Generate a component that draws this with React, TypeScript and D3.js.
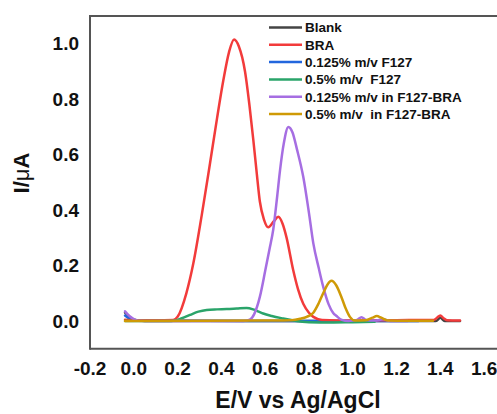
import React from 'react'
import { scaleLinear, line, curveMonotoneX } from 'd3'

type Pt = [number, number]

const blank: Pt[] = [[-0.04, 0.03], [-0.02, 0.015], [0.0, 0.005], [0.05, 0.0], [0.5, 0.0], [1.0, 0.0], [1.38, 0.0], [1.4, 0.012], [1.42, 0.0], [1.49, 0.0]]
const blue: Pt[] = [[-0.04, 0.02], [0.0, 0.003], [0.5, 0.0], [1.0, 0.0], [1.3, 0.0]]
const bra: Pt[] = [
  [-0.04, 0.005], [0.0, 0.003], [0.1, 0.003], [0.18, 0.004], [0.2, 0.015], [0.24, 0.1], [0.272, 0.208],
  [0.31, 0.38], [0.348, 0.568], [0.38, 0.73], [0.409, 0.868], [0.435, 0.97], [0.458, 1.015], [0.48, 0.99],
  [0.508, 0.9], [0.528, 0.78], [0.546, 0.652], [0.562, 0.53], [0.576, 0.43], [0.595, 0.365], [0.614, 0.338],
  [0.64, 0.36], [0.66, 0.376], [0.68, 0.35], [0.698, 0.3], [0.728, 0.184], [0.75, 0.115], [0.774, 0.062],
  [0.8, 0.03], [0.82, 0.015], [0.86, 0.004], [1.0, 0.002], [1.2, 0.003], [1.37, 0.004], [1.385, 0.012],
  [1.4, 0.02], [1.415, 0.01], [1.43, 0.003], [1.49, 0.002],
]
const green: Pt[] = [
  [-0.04, 0.0], [0.15, 0.0], [0.19, 0.002], [0.22, 0.01], [0.257, 0.022], [0.295, 0.034], [0.333, 0.04],
  [0.38, 0.042], [0.424, 0.043], [0.47, 0.045], [0.515, 0.047], [0.545, 0.042], [0.57, 0.034], [0.591, 0.027],
  [0.63, 0.018], [0.683, 0.009], [0.73, 0.002], [0.8, -0.004], [0.9, -0.005], [1.0, -0.004], [1.1, -0.003],
]
const purple: Pt[] = [
  [-0.04, 0.035], [-0.02, 0.018], [0.0, 0.007], [0.02, 0.001], [0.1, 0.0], [0.3, 0.0], [0.5, 0.0], [0.53, 0.005],
  [0.55, 0.025], [0.576, 0.088], [0.6, 0.18], [0.62, 0.26], [0.637, 0.33], [0.655, 0.45], [0.668, 0.544],
  [0.685, 0.64], [0.706, 0.7], [0.725, 0.68], [0.745, 0.62], [0.774, 0.52], [0.8, 0.39], [0.82, 0.28],
  [0.845, 0.19], [0.865, 0.124], [0.89, 0.06], [0.91, 0.03], [0.926, 0.018], [0.95, 0.004], [0.98, 0.0],
  [1.02, 0.004], [1.04, 0.014], [1.06, 0.004], [1.1, 0.002], [1.14, 0.006], [1.17, 0.0], [1.25, 0.0],
]
const gold: Pt[] = [
  [-0.04, 0.0], [0.3, 0.001], [0.6, 0.002], [0.72, 0.003], [0.76, 0.008], [0.79, 0.015], [0.82, 0.03],
  [0.845, 0.065], [0.865, 0.1], [0.885, 0.132], [0.903, 0.145], [0.925, 0.128], [0.949, 0.085], [0.968, 0.045],
  [0.987, 0.015], [1.01, 0.002], [1.06, 0.003], [1.09, 0.012], [1.11, 0.018], [1.13, 0.012], [1.16, 0.002],
  [1.25, 0.001], [1.366, 0.001],
]

const names = ['Blank', 'BRA', '0.125% m/v F127', '0.5% m/v  F127', '0.125% m/v in F127-BRA', '0.5% m/v  in F127-BRA']
const colors = ['#444444', '#f23b3b', '#2266dd', '#2aa46a', '#a66ee2', '#cf9a06']
const seriesList = [blank, bra, blue, green, purple, gold]
const drawOrder = [0, 2, 1, 3, 4, 5]

const xTicks = [-0.2, 0.0, 0.2, 0.4, 0.6, 0.8, 1.0, 1.2, 1.4, 1.6]
const yTicks = [0.0, 0.2, 0.4, 0.6, 0.8, 1.0]

export default function App() {
  const width = 497, height = 414
  const x = scaleLinear().domain([-0.2, 1.7]).range([90, 506])
  const y = scaleLinear().domain([-0.1, 1.1]).range([348.75, 16])
  const path = line<Pt>().x(d => x(d[0])).y(d => y(d[1])).curve(curveMonotoneX)
  const font = 'Arial, "Liberation Sans", sans-serif'

  return (
    <svg width={width} height={height} style={{ position: 'absolute', left: 0, top: 0, background: '#fff' }}
      fontFamily={font} fontWeight="bold">
      {/* frame */}
      <line x1={x(-0.2)} x2={width + 10} y1={y(1.1)} y2={y(1.1)} stroke="#555" strokeWidth={2} />
      <line x1={x(-0.2)} x2={width + 10} y1={y(-0.1)} y2={y(-0.1)} stroke="#555" strokeWidth={2} />
      <line x1={x(-0.2)} x2={x(-0.2)} y1={y(1.1) - 1} y2={y(-0.1) + 1} stroke="#555" strokeWidth={2} />

      {drawOrder.map(i => (
        <path key={i} d={path(seriesList[i]) || ''} fill="none" stroke={colors[i]} strokeWidth={2.5}
          strokeLinejoin="round" strokeLinecap="round" />
      ))}

      {yTicks.map(t => (
        <text key={t} x={79} y={y(t)} dy="0.35em" textAnchor="end" fontSize={19} fill="#111">{t.toFixed(1)}</text>
      ))}
      {xTicks.map(t => (
        <text key={t} x={x(t)} y={375} textAnchor="middle" fontSize={19} fill="#111">{t.toFixed(1)}</text>
      ))}

      <text x={298} y={408} textAnchor="middle" fontSize={23} fill="#111">E/V vs Ag/AgCl</text>
      <text transform={`translate(29,173) rotate(-90)`} textAnchor="middle" fontSize={22} fill="#111">
        I/<tspan fontWeight="normal">μ</tspan>A
      </text>

      {names.map((n, i) => {
        const ly = 27.5 + i * 17.3
        return (
          <g key={n}>
            <line x1={269} x2={302} y1={ly} y2={ly} stroke={colors[i]} strokeWidth={2.5} />
            <text x={305} y={ly} dy="0.36em" fontSize={13.5} fill="#111" style={{ whiteSpace: 'pre' }}>{n}</text>
          </g>
        )
      })}
    </svg>
  )
}
